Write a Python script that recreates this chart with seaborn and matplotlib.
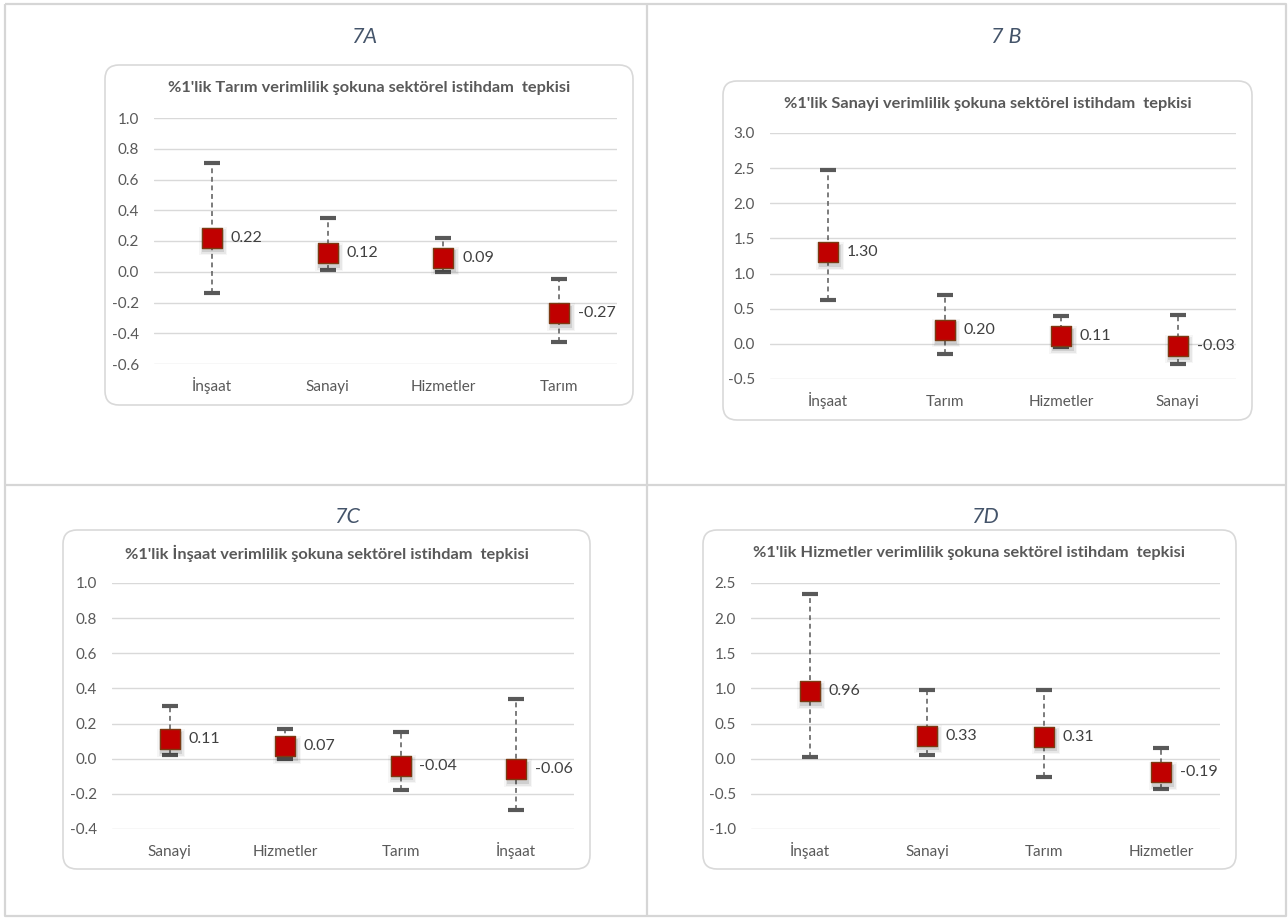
import matplotlib
matplotlib.use("Agg")
import matplotlib.pyplot as plt
from matplotlib.patches import FancyBboxPatch
from matplotlib.transforms import offset_copy
import pandas as pd
import seaborn as sns

# ---------------------------------------------------------------
# Data: sectoral employment response to a 1% productivity shock
# (point estimate with lower / upper bands)
# ---------------------------------------------------------------
a_sectors = ["İnşaat", "Sanayi", "Hizmetler", "Tarım"]
a_response = [0.22, 0.12, 0.09, -0.27]
a_lower = [-0.14, 0.01, 0.00, -0.46]
a_upper = [0.71, 0.35, 0.22, -0.05]
a_yticks = [-0.6, -0.4, -0.2, 0.0, 0.2, 0.4, 0.6, 0.8, 1.0]

b_sectors = ["İnşaat", "Tarım", "Hizmetler", "Sanayi"]
b_response = [1.30, 0.20, 0.11, -0.03]
b_lower = [0.63, -0.14, -0.05, -0.29]
b_upper = [2.48, 0.69, 0.40, 0.41]
b_yticks = [-0.5, 0.0, 0.5, 1.0, 1.5, 2.0, 2.5, 3.0]

c_sectors = ["Sanayi", "Hizmetler", "Tarım", "İnşaat"]
c_response = [0.11, 0.07, -0.04, -0.06]
c_lower = [0.02, 0.00, -0.18, -0.29]
c_upper = [0.30, 0.17, 0.15, 0.34]
c_yticks = [-0.4, -0.2, 0.0, 0.2, 0.4, 0.6, 0.8, 1.0]

d_sectors = ["İnşaat", "Sanayi", "Tarım", "Hizmetler"]
d_response = [0.96, 0.33, 0.31, -0.19]
d_lower = [0.02, 0.05, -0.26, -0.43]
d_upper = [2.34, 0.98, 0.98, 0.15]
d_yticks = [-1.0, -0.5, 0.0, 0.5, 1.0, 1.5, 2.0, 2.5]

panel_labels = ["7A", "7 B", "7C", "7D"]
chart_titles = [
    "%1'lik Tarım verimlilik şokuna sektörel istihdam  tepkisi",
    "%1'lik Sanayi verimlilik şokuna sektörel istihdam  tepkisi",
    "%1'lik İnşaat verimlilik şokuna sektörel istihdam  tepkisi",
    "%1'lik Hizmetler verimlilik şokuna sektörel istihdam  tepkisi",
]

panels = [
    (a_sectors, a_response, a_lower, a_upper, a_yticks),
    (b_sectors, b_response, b_lower, b_upper, b_yticks),
    (c_sectors, c_response, c_lower, c_upper, c_yticks),
    (d_sectors, d_response, d_lower, d_upper, d_yticks),
]

# ---------------------------------------------------------------
# Layout in pixels (figure is 1288 x 918)
# ---------------------------------------------------------------
W, H = 1288, 918
boxes = [(105, 65, 633, 405), (723, 81, 1252, 420),
         (63, 530, 590, 869), (703, 530, 1236, 869)]
plot_areas = [(154, 118, 617, 364), (770, 133, 1236, 379),
              (112, 583, 574, 829), (751, 583, 1220, 829)]
label_pos = [(364, 37), (1006, 37), (347, 517), (985, 517)]
title_y = [88, 104, 553, 553]

GRID = "#d9d9d9"
TEXT = "#595959"
VALUE = "#404040"
RED = "#c00000"
EDGE = "#7b3a12"
BAR = "#595959"

sns.set_theme(style="white")
plt.rcParams["font.family"] = ["Lato", "DejaVu Sans"]

fig = plt.figure(figsize=(W / 100, H / 100), dpi=100)
fig.patch.set_facecolor("white")

# Background canvas in pixel coordinates for frame, boxes and labels
bg = fig.add_axes([0, 0, 1, 1], zorder=0)
bg.set_xlim(0, W)
bg.set_ylim(H, 0)
bg.axis("off")

frame_kw = dict(color="#d6d6d6", lw=1.6, solid_capstyle="butt")
bg.plot([5, 1286, 1286, 5, 5], [4, 4, 916, 916, 4], **frame_kw)
bg.plot([647, 647], [4, 916], **frame_kw)
bg.plot([5, 1286], [485, 485], **frame_kw)

for (x0, y0, x1, y1), (lx, ly), ty, lab, ttl in zip(
        boxes, label_pos, title_y, panel_labels, chart_titles):
    bg.add_patch(FancyBboxPatch((x0, y0), x1 - x0, y1 - y0,
                                boxstyle="round,pad=0,rounding_size=14",
                                fc="white", ec="#d9d9d9", lw=1.2))
    bg.text(lx, ly, lab, ha="center", va="center", fontsize=15.5,
            style="italic", color="#44546a")
    bg.text((x0 + x1) / 2, ty, ttl, ha="center", va="center",
            fontsize=11.8, fontweight="bold", color=TEXT)

for (sectors, resp, lo, hi, yticks), (px0, py0, px1, py1) in zip(panels, plot_areas):
    ax = fig.add_axes([px0 / W, 1 - py1 / H, (px1 - px0) / W, (py1 - py0) / H],
                      zorder=2)
    ax.patch.set_alpha(0)
    df = pd.DataFrame({"sektor": sectors, "tepki": resp,
                       "alt": lo, "ust": hi})
    idx = list(range(len(df)))

    # dashed band between lower and upper bounds
    ax.vlines(idx, df["alt"], df["ust"], colors=BAR, lw=1.1,
              linestyles=(0, (3.2, 2.4)), zorder=2, clip_on=False)
    for col in ("alt", "ust"):
        ax.plot(idx, df[col], ls="none", marker="_", ms=11.5, mew=3.0,
                color=BAR, zorder=3, clip_on=False)

    # soft drop shadow under the squares
    for ms, alpha in ((16.5, 0.10), (18.0, 0.06), (19.5, 0.035)):
        ax.plot(idx, df["tepki"], ls="none", marker="s", ms=ms,
                color="black", alpha=alpha, mew=0, zorder=3.5, clip_on=False,
                transform=offset_copy(ax.transData, fig=fig, x=1.5, y=-3.5,
                                      units="dots"))

    sns.scatterplot(data=df, x="sektor", y="tepki", ax=ax, marker="s",
                    s=15 ** 2, color=RED, edgecolor=EDGE, linewidth=1.0,
                    zorder=4, clip_on=False, legend=False)

    for i, v in zip(idx, df["tepki"]):
        ax.annotate(f"{v:.2f}", (i, v), xytext=(13.5, 0),
                    textcoords="offset points", ha="left", va="center",
                    fontsize=11.5, color=VALUE, zorder=5)

    ax.set_xlim(-0.5, len(df) - 0.5)
    ax.set_ylim(yticks[0], yticks[-1])
    ax.set_yticks(yticks)
    ax.set_yticklabels([f"{t:.1f}" for t in yticks])
    ax.set_xticks(idx)
    ax.set_xticklabels(sectors)
    ax.set_xlabel("")
    ax.set_ylabel("")
    ax.yaxis.grid(True, color=GRID, lw=1.0, zorder=0)
    ax.xaxis.grid(False)
    ax.set_axisbelow(True)
    for sp in ax.spines.values():
        sp.set_visible(False)
    ax.tick_params(axis="y", length=0, pad=11, labelsize=11, labelcolor=TEXT)
    ax.tick_params(axis="x", length=0, pad=19.5, labelsize=11, labelcolor=TEXT)
    plt.setp(ax.get_xticklabels(), va="baseline")

fig.savefig("out.png", dpi=100, facecolor="white")
